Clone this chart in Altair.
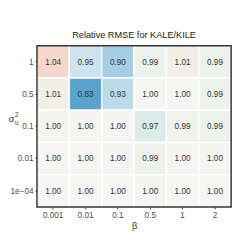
import altair as alt
import pandas as pd

betas = ["0.001", "0.01", "0.1", "0.5", "1", "2"]
sigmas = ["1", "0.5", "0.1", "0.01", "1e\u221204"]
values = [
    [1.04, 0.95, 0.90, 0.99, 1.01, 0.99],
    [1.01, 0.83, 0.93, 1.00, 1.00, 0.99],
    [1.002, 1.001, 0.998, 0.97, 0.993, 0.99],
    [1.0, 1.0, 0.999, 0.99, 0.998, 0.998],
    [1.0, 1.0, 1.0, 0.999, 1.0, 1.0],
]
color_domain = [0.83, 0.90, 0.95, 1.0, 1.04]
color_range = ["#5aa3cd", "#a5cde3", "#cde3ee", "#f5f5f3", "#f5d7cb"]

rows = []
for i, s in enumerate(sigmas):
    for j, b in enumerate(betas):
        v = values[i][j]
        rows.append({"beta": b, "sigma": s, "value": v, "label": f"{v:.2f}"})
df = pd.DataFrame(rows)
one = pd.DataFrame({"k": [0]})

font = "Liberation Sans"
W, H = 201, 167

x = alt.X("beta:N", sort=betas, title="\u03b2",
          axis=alt.Axis(labelAngle=0, labelFontSize=8.5, labelColor="#4d4d4d",
                        ticks=True, tickSize=2, tickColor="#333333", domain=False,
                        labelPadding=2, titleFontSize=9.5, titleFontWeight="normal",
                        titleColor="#333333", titlePadding=2, labelFont=font, titleFont=font))
y = alt.Y("sigma:N", sort=sigmas, title=None,
          axis=alt.Axis(labelFontSize=8.5, labelColor="#4d4d4d", ticks=True, tickSize=2,
                        tickColor="#333333", domain=False, labelPadding=2,
                        labelFont=font))

rect = alt.Chart(df).mark_rect(stroke="white", strokeWidth=1.5).encode(
    x=x, y=y,
    color=alt.Color("value:Q", scale=alt.Scale(domain=color_domain, range=color_range),
                    legend=None),
)
text = alt.Chart(df).mark_text(fontSize=8.5, color="#333333", font=font).encode(
    x=alt.X("beta:N", sort=betas), y=alt.Y("sigma:N", sort=sigmas), text="label:N"
)

border = alt.Chart(one).mark_rect(fill=None, stroke="#333333", strokeWidth=1.5).encode(
    x=alt.value(0), x2=alt.value(W), y=alt.value(0), y2=alt.value(H)
)

sig = alt.Chart(one).mark_text(text="\u03c3", fontSize=10, color="#333333", font=font,
                               align="center", baseline="middle").encode(
    x=alt.value(-26.5), y=alt.value(76))
sup = alt.Chart(one).mark_text(text="2", fontSize=6.5, color="#333333", font=font,
                               align="center", baseline="middle").encode(
    x=alt.value(-21), y=alt.value(72))
sub = alt.Chart(one).mark_text(text="u", fontSize=6.5, color="#333333", font=font,
                               align="center", baseline="middle").encode(
    x=alt.value(-21), y=alt.value(80))

chart = (rect + text + border + sig + sup + sub).properties(
    width=W, height=H,
    title=alt.TitleParams("Relative RMSE for KALE/KILE", fontSize=9.5, fontWeight="normal",
                          font=font, color="#1a1a1a", offset=6),
    autosize=alt.AutoSizeParams(type="none"),
    padding={"left": 30, "top": 35, "right": 4, "bottom": 24},
).configure_view(stroke=None).configure_scale(
    bandPaddingInner=0, bandPaddingOuter=0
)

chart.save("out.html", embed_options={"renderer": "svg", "actions": False})
